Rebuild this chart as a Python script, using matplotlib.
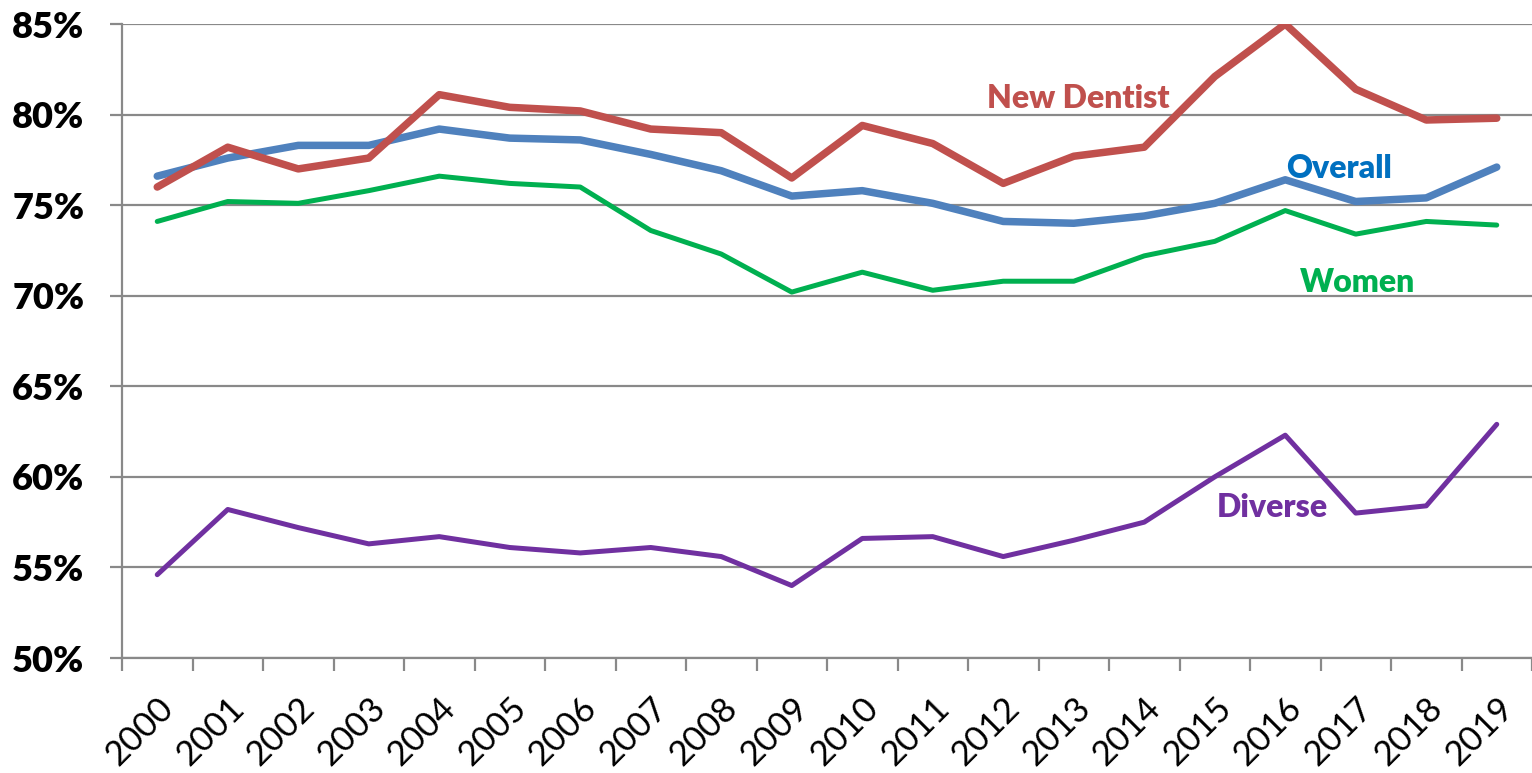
import numpy as np
import matplotlib.pyplot as plt

years = [str(y) for y in range(2000, 2020)]
overall = [76.6, 77.6, 78.3, 78.3, 79.2, 78.7, 78.6, 77.8, 76.9, 75.5,
           75.8, 75.1, 74.1, 74.0, 74.4, 75.1, 76.4, 75.2, 75.4, 77.1]
new_dentist = [76.0, 78.2, 77.0, 77.6, 81.1, 80.4, 80.2, 79.2, 79.0, 76.5,
               79.4, 78.4, 76.2, 77.7, 78.2, 82.1, 85.0, 81.4, 79.7, 79.8]
women = [74.1, 75.2, 75.1, 75.8, 76.6, 76.2, 76.0, 73.6, 72.3, 70.2,
         71.3, 70.3, 70.8, 70.8, 72.2, 73.0, 74.7, 73.4, 74.1, 73.9]
diverse = [54.6, 58.2, 57.2, 56.3, 56.7, 56.1, 55.8, 56.1, 55.6, 54.0,
           56.6, 56.7, 55.6, 56.5, 57.5, 60.0, 62.3, 58.0, 58.4, 62.9]

plt.rcParams['font.family'] = ['Lato', 'DejaVu Sans']

fig = plt.figure(figsize=(15.32, 7.73), dpi=100)
ax = fig.add_axes([122 / 1532, 1 - 658 / 773, 1 - 122 / 1532, (658 - 24) / 773])

x = np.arange(len(years))
ax.plot(x, women, color='#00B050', lw=3.6, solid_capstyle='round', zorder=3)
ax.plot(x, diverse, color='#7030A0', lw=3.6, solid_capstyle='round', zorder=3)
ax.plot(x, overall, color='#4F81BD', lw=5.4, solid_capstyle='round', zorder=4)
ax.plot(x, new_dentist, color='#C0504D', lw=5.4, solid_capstyle='round', zorder=5)

ax.set_xlim(-0.5, len(years) - 0.5)
ax.set_ylim(50, 85)
ax.set_yticks(np.arange(50, 86, 5))
ax.set_yticklabels([f'{v}%' for v in range(50, 86, 5)], fontsize=26, fontweight='heavy')
ax.yaxis.grid(True, color='#898989', lw=1.6)
ax.set_axisbelow(True)

ax.set_xticks(x)
ax.set_xticklabels(years, fontsize=25, rotation=45, ha='right', rotation_mode='anchor')
ax.set_xticks(np.arange(-0.5, len(years), 1), minor=True)
ax.tick_params(axis='x', which='major', length=0, pad=24)
ax.tick_params(axis='x', which='minor', length=9, width=1.6, color='#898989')
ax.tick_params(axis='y', length=9, width=1.6, color='#898989', pad=18)

for s in ['top', 'right']:
    ax.spines[s].set_visible(False)
for s in ['left', 'bottom']:
    ax.spines[s].set_color('#898989')
    ax.spines[s].set_linewidth(1.6)

ax.text(13.07, 80.9, 'New Dentist', color='#C0504D', fontsize=23, fontweight='heavy',
        ha='center', va='center')
ax.text(16.76, 77.05, 'Overall', color='#0070C0', fontsize=23, fontweight='heavy',
        ha='center', va='center')
ax.text(17.03, 70.75, 'Women', color='#00B050', fontsize=23, fontweight='heavy',
        ha='center', va='center')
ax.text(15.81, 58.3, 'Diverse', color='#7030A0', fontsize=23, fontweight='heavy',
        ha='center', va='center')

fig.savefig('out.png', dpi=100)
